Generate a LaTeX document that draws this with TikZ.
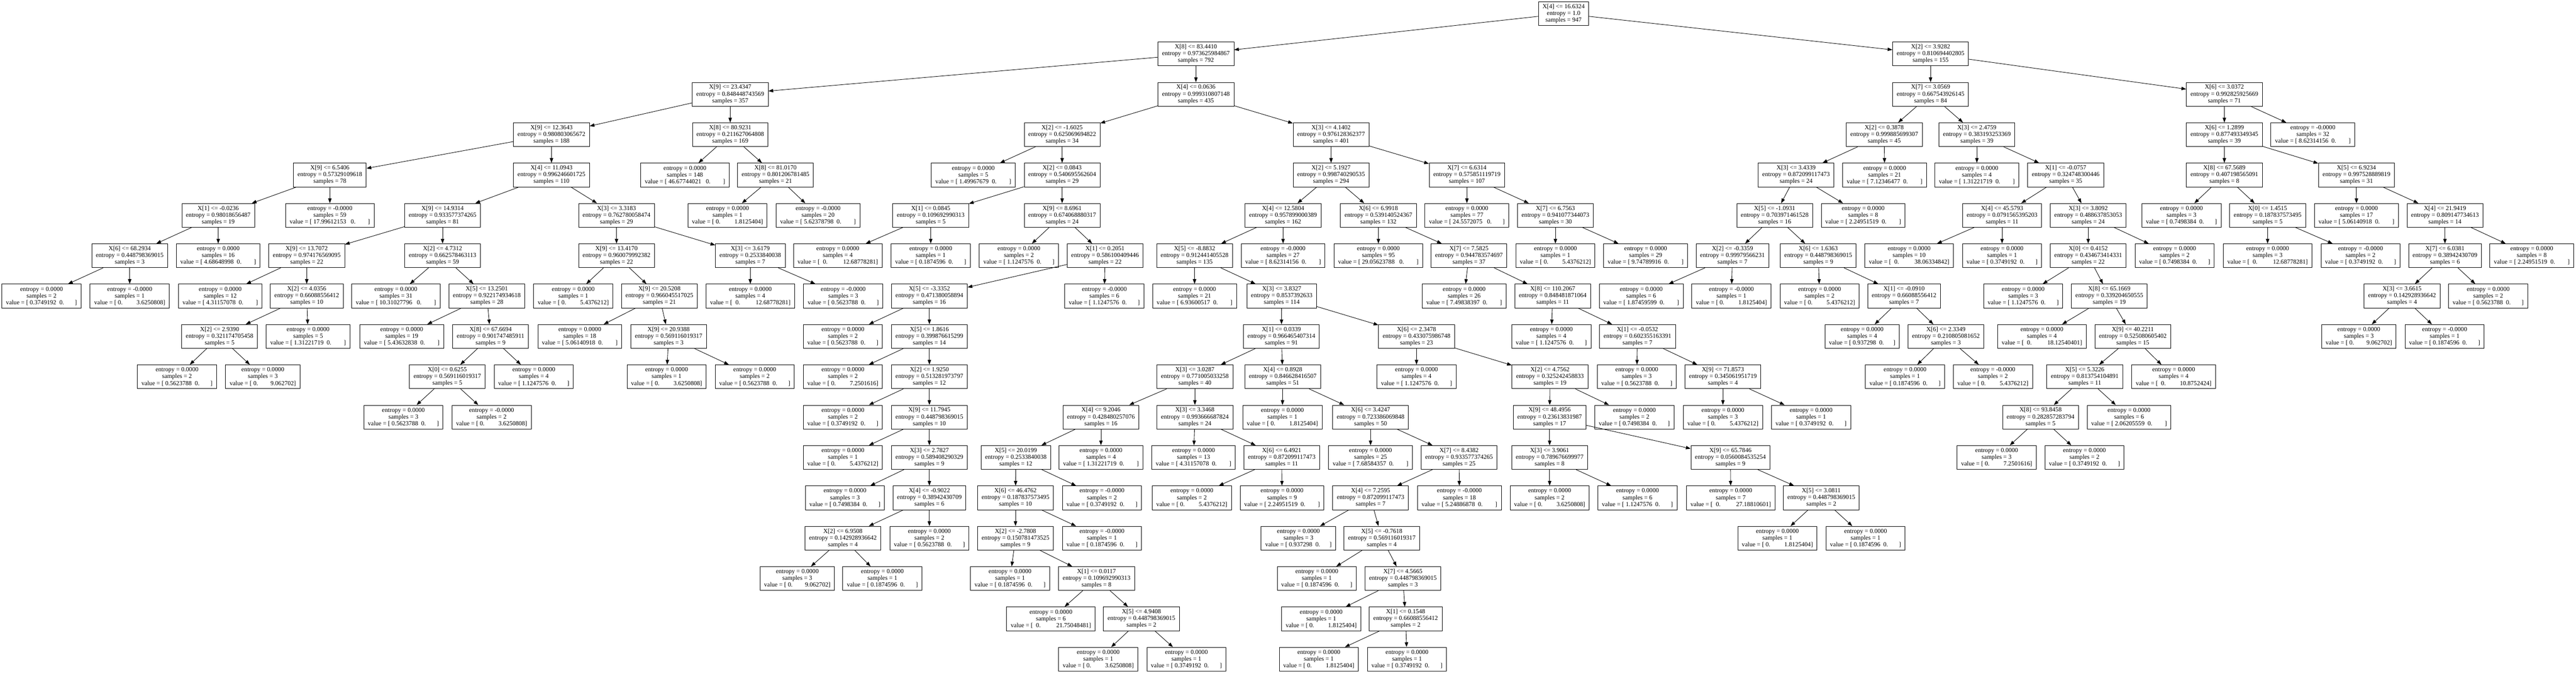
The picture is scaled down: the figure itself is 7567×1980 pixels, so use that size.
\documentclass[tikz,border=0pt]{standalone}
\usepackage{fontspec}
\setmainfont{Liberation Serif}
\usetikzlibrary{arrows.meta,positioning}

\newcommand{\gap}[1]{\hspace*{\dimexpr#1\fontdimen2\font\relax}}
\newcommand{\splt}[4]{X[#1] <= #2\\entropy = #3\\samples = #4}
\newcommand{\lf}[3]{entropy = #1\\samples = #2\\value = #3}
\newcommand{\vx}[2]{[\gap{1}#1\gap{2}0.\gap{#2}]}
\newcommand{\vxx}[2]{[\gap{1}#1\gap{3}0.\gap{#2}]}
\newcommand{\vy}[2]{[\gap{1}0.\gap{\numexpr#2+2\relax}#1]}
\newcommand{\vyy}[2]{[\gap{2}0.\gap{\numexpr#2+2\relax}#1]}

\tikzset{
    treenode/.style={draw, rectangle, align=center, line width=1.3pt, inner xsep=12pt, inner ysep=3pt, minimum height=70pt, font=\fontsize{18.3}{19.8}\selectfont},
    branch/.style={-{Triangle[length=14pt,width=10pt]}, line width=1.3pt}
}

\begin{document}
\begin{tikzpicture}[node distance=118.6pt]
    \path[fill=white, use as bounding box] (0,0) rectangle (7567pt,-1980pt);

    \node[treenode] (n0) at (4593pt,-40pt) {\splt{4}{16.6324}{1.0}{947}};
    \node[treenode, below of=n0, xshift=-1080pt] (n1) {\splt{8}{83.4410}{0.973625984867}{792}};
    \node[treenode, below of=n1, xshift=-1368pt] (n2) {\splt{9}{23.4347}{0.848448743569}{357}};
    \node[treenode, below of=n2, xshift=-525pt] (n3) {\splt{9}{12.3643}{0.980803065672}{188}};
    \node[treenode, below of=n3, xshift=-651pt] (n4) {\splt{9}{6.5406}{0.57329109618}{78}};
    \node[treenode, below of=n4, xshift=-328pt] (n5) {\splt{1}{-0.0236}{0.98018656487}{19}};
    \node[treenode, below of=n5, xshift=-260pt] (n6) {\splt{6}{68.2934}{0.448798369015}{3}};
    \node[treenode, below of=n6, xshift=-259pt] (n7) {\lf{0.0000}{2}{\vx{0.3749192}{7}}};
    \node[treenode, below of=n6] (n8) {\lf{-0.0000}{1}{\vy{3.6250808}{7}}};
    \node[treenode, below of=n5] (n9) {\lf{0.0000}{16}{\vx{4.68648998}{8}}};
    \node[treenode, below of=n4] (n10) {\lf{-0.0000}{59}{\vxx{17.99612153}{8}}};
    \node[treenode, below of=n3] (n11) {\splt{4}{11.0943}{0.996246601725}{110}};
    \node[treenode, below of=n11, xshift=-320pt] (n12) {\splt{9}{14.9314}{0.933577374265}{81}};
    \node[treenode, below of=n12, xshift=-399pt] (n13) {\splt{9}{13.7072}{0.974176569095}{22}};
    \node[treenode, below of=n13, xshift=-254pt] (n14) {\lf{0.0000}{12}{\vx{4.31157078}{8}}};
    \node[treenode, below of=n13] (n15) {\splt{2}{4.0356}{0.66088556412}{10}};
    \node[treenode, below of=n15, xshift=-256pt] (n16) {\splt{2}{2.9390}{0.321174705458}{5}};
    \node[treenode, below of=n16, xshift=-125pt] (n17) {\lf{0.0000}{2}{\vx{0.5623788}{7}}};
    \node[treenode, below of=n16, xshift=127pt] (n18) {\lf{0.0000}{3}{\vy{9.062702}{6}}};
    \node[treenode, below of=n15, xshift=4pt] (n19) {\lf{0.0000}{5}{\vx{1.31221719}{8}}};
    \node[treenode, below of=n12] (n20) {\splt{2}{4.7312}{0.662578463113}{59}};
    \node[treenode, below of=n20, xshift=-137pt] (n21) {\lf{0.0000}{31}{\vxx{10.31027796}{8}}};
    \node[treenode, below of=n20, xshift=130pt] (n22) {\splt{5}{13.2501}{0.922174934618}{28}};
    \node[treenode, below of=n22, xshift=-250pt] (n23) {\lf{0.0000}{19}{\vx{5.43632838}{8}}};
    \node[treenode, below of=n22, xshift=11pt] (n24) {\splt{8}{67.6694}{0.901747485911}{9}};
    \node[treenode, below of=n24, xshift=-127pt] (n25) {\splt{0}{0.6255}{0.569116019317}{5}};
    \node[treenode, below of=n25, xshift=-129pt] (n26) {\lf{0.0000}{3}{\vx{0.5623788}{7}}};
    \node[treenode, below of=n25, xshift=130pt] (n27) {\lf{-0.0000}{2}{\vy{3.6250808}{7}}};
    \node[treenode, below of=n24, xshift=127pt] (n28) {\lf{0.0000}{4}{\vx{1.1247576}{7}}};
    \node[treenode, below of=n11, xshift=191pt] (n29) {\splt{3}{3.3183}{0.762780058474}{29}};
    \node[treenode, below of=n29] (n30) {\splt{9}{13.4170}{0.960079992382}{22}};
    \node[treenode, below of=n30, xshift=-127pt] (n31) {\lf{0.0000}{1}{\vy{5.4376212}{7}}};
    \node[treenode, below of=n30, xshift=126pt] (n32) {\splt{9}{20.5208}{0.966045517025}{21}};
    \node[treenode, below of=n32, xshift=-234pt] (n33) {\lf{0.0000}{18}{\vx{5.06140918}{8}}};
    \node[treenode, below of=n32, xshift=27pt] (n34) {\splt{9}{20.9388}{0.569116019317}{3}};
    \node[treenode, below of=n34, xshift=-6pt] (n35) {\lf{0.0000}{1}{\vy{3.6250808}{7}}};
    \node[treenode, below of=n34, xshift=253pt] (n36) {\lf{0.0000}{2}{\vx{0.5623788}{7}}};
    \node[treenode, below of=n29, xshift=393pt] (n37) {\splt{3}{3.6179}{0.2533840038}{7}};
    \node[treenode, below of=n37] (n38) {\lf{0.0000}{4}{\vyy{12.68778281}{8}}};
    \node[treenode, below of=n37, xshift=273pt] (n39) {\lf{-0.0000}{3}{\vx{0.5623788}{7}}};
    \node[treenode, below of=n2] (n40) {\splt{8}{80.9231}{0.211627064808}{169}};
    \node[treenode, below of=n40, xshift=-133pt] (n41) {\lf{0.0000}{148}{\vxx{46.67744021}{8}}};
    \node[treenode, below of=n40, xshift=133pt] (n42) {\splt{8}{81.0170}{0.801206781485}{21}};
    \node[treenode, below of=n42, xshift=-141pt] (n43) {\lf{0.0000}{1}{\vy{1.8125404}{7}}};
    \node[treenode, below of=n42, xshift=125pt] (n44) {\lf{-0.0000}{20}{\vx{5.62378798}{8}}};

    \node[treenode, below of=n1] (n45) {\splt{4}{0.0636}{0.999310807148}{435}};
    \node[treenode, below of=n45, xshift=-393pt] (n46) {\splt{2}{-1.6025}{0.625069694822}{34}};
    \node[treenode, below of=n46, xshift=-261pt] (n47) {\lf{0.0000}{5}{\vx{1.49967679}{8}}};
    \node[treenode, below of=n46] (n48) {\splt{2}{0.0843}{0.540695562604}{29}};
    \node[treenode, below of=n48, xshift=-386pt] (n49) {\splt{1}{0.0845}{0.109692990313}{5}};
    \node[treenode, below of=n49, xshift=-273pt] (n50) {\lf{0.0000}{4}{\vyy{12.68778281}{8}}};
    \node[treenode, below of=n49] (n51) {\lf{0.0000}{1}{\vx{0.1874596}{7}}};
    \node[treenode, below of=n48] (n52) {\splt{9}{8.6961}{0.674068880317}{24}};
    \node[treenode, below of=n52, xshift=-127pt] (n53) {\lf{0.0000}{2}{\vx{1.1247576}{7}}};
    \node[treenode, below of=n52, xshift=126pt] (n54) {\splt{1}{0.2051}{0.586100409446}{22}};
    \node[treenode, below of=n54, xshift=-516pt] (n55) {\splt{5}{-3.3352}{0.471380058894}{16}};
    \node[treenode, below of=n55, xshift=-254pt] (n56) {\lf{0.0000}{2}{\vx{0.5623788}{7}}};
    \node[treenode, below of=n55] (n57) {\splt{5}{1.8616}{0.399876615299}{14}};
    \node[treenode, below of=n57, xshift=-254pt] (n58) {\lf{0.0000}{2}{\vy{7.2501616}{7}}};
    \node[treenode, below of=n57] (n59) {\splt{2}{1.9250}{0.513281973797}{12}};
    \node[treenode, below of=n59, xshift=-254pt] (n60) {\lf{0.0000}{2}{\vx{0.3749192}{7}}};
    \node[treenode, below of=n59] (n61) {\splt{9}{11.7945}{0.448798369015}{10}};
    \node[treenode, below of=n61, xshift=-254pt] (n62) {\lf{0.0000}{1}{\vy{5.4376212}{7}}};
    \node[treenode, below of=n61] (n63) {\splt{3}{2.7827}{0.589408290329}{9}};
    \node[treenode, below of=n63, xshift=-248pt] (n64) {\lf{0.0000}{3}{\vx{0.7498384}{7}}};
    \node[treenode, below of=n63] (n65) {\splt{4}{-0.9022}{0.38942430709}{6}};
    \node[treenode, below of=n65, xshift=-254pt] (n66) {\splt{2}{6.9508}{0.142928936642}{4}};
    \node[treenode, below of=n66, xshift=-134pt] (n67) {\lf{0.0000}{3}{\vy{9.062702}{6}}};
    \node[treenode, below of=n66, xshift=116pt] (n68) {\lf{0.0000}{1}{\vx{0.1874596}{7}}};
    \node[treenode, below of=n65] (n69) {\lf{0.0000}{2}{\vx{0.5623788}{7}}};
    \node[treenode, below of=n54, xshift=-2pt] (n70) {\lf{-0.0000}{6}{\vx{1.1247576}{7}}};

    \node[treenode, below of=n45, xshift=397pt] (n71) {\splt{3}{4.1402}{0.976128362377}{401}};
    \node[treenode, below of=n71] (n72) {\splt{2}{5.1927}{0.998740290535}{294}};
    \node[treenode, below of=n72, xshift=-141pt] (n73) {\splt{4}{12.5804}{0.957899000389}{162}};
    \node[treenode, below of=n73, xshift=-260pt] (n74) {\splt{5}{-8.8832}{0.912441405528}{135}};
    \node[treenode, below of=n74] (n75) {\lf{0.0000}{21}{\vx{6.93600517}{8}}};
    \node[treenode, below of=n74, xshift=256pt] (n76) {\splt{3}{3.8327}{0.8537392633}{114}};
    \node[treenode, below of=n76, xshift=-1pt] (n77) {\splt{1}{0.0339}{0.966465407314}{91}};
    \node[treenode, below of=n77, xshift=-254pt] (n78) {\splt{3}{3.0287}{0.771005033258}{40}};
    \node[treenode, below of=n78, xshift=-276pt] (n79) {\splt{4}{9.2046}{0.428480257076}{16}};
    \node[treenode, below of=n79, xshift=-250pt] (n80) {\splt{5}{20.0199}{0.2533840038}{12}};
    \node[treenode, below of=n80, xshift=-1pt] (n81) {\splt{6}{46.4762}{0.187837573495}{10}};
    \node[treenode, below of=n81] (n82) {\splt{2}{-2.7808}{0.150781473525}{9}};
    \node[treenode, below of=n82, xshift=-16pt] (n83) {\lf{0.0000}{1}{\vx{0.1874596}{7}}};
    \node[treenode, below of=n82, xshift=238pt] (n84) {\splt{1}{0.0117}{0.109692990313}{8}};
    \node[treenode, below of=n84, xshift=-134pt] (n85) {\lf{0.0000}{6}{\vyy{21.75048481}{8}}};
    \node[treenode, below of=n84, xshift=132pt] (n86) {\splt{5}{4.9408}{0.448798369015}{2}};
    \node[treenode, below of=n86, xshift=-127pt] (n87) {\lf{0.0000}{1}{\vy{3.6250808}{7}}};
    \node[treenode, below of=n86, xshift=132pt] (n88) {\lf{0.0000}{1}{\vx{0.3749192}{7}}};
    \node[treenode, below of=n81, xshift=254pt] (n89) {\lf{-0.0000}{1}{\vx{0.1874596}{7}}};
    \node[treenode, below of=n80, xshift=253pt] (n90) {\lf{-0.0000}{2}{\vx{0.3749192}{7}}};
    \node[treenode, below of=n79] (n91) {\lf{0.0000}{4}{\vx{1.31221719}{8}}};
    \node[treenode, below of=n78] (n92) {\splt{3}{3.3468}{0.993666687824}{24}};
    \node[treenode, below of=n92, xshift=-4pt] (n93) {\lf{0.0000}{13}{\vx{4.31157078}{8}}};
    \node[treenode, below of=n92, xshift=255pt] (n94) {\splt{6}{6.4921}{0.872099117473}{11}};
    \node[treenode, below of=n94, xshift=-264pt] (n95) {\lf{0.0000}{2}{\vy{5.4376212}{7}}};
    \node[treenode, below of=n94, xshift=1pt] (n96) {\lf{0.0000}{9}{\vx{2.24951519}{8}}};
    \node[treenode, below of=n77, xshift=4pt] (n97) {\splt{4}{0.8928}{0.846628416507}{51}};
    \node[treenode, below of=n97, xshift=-1pt] (n98) {\lf{0.0000}{1}{\vy{1.8125404}{7}}};
    \node[treenode, below of=n97, xshift=258pt] (n99) {\splt{6}{3.4247}{0.723386069848}{50}};
    \node[treenode, below of=n99] (n100) {\lf{0.0000}{25}{\vx{7.68584357}{8}}};
    \node[treenode, below of=n99, xshift=260pt] (n101) {\splt{7}{8.4382}{0.933577374265}{25}};
    \node[treenode, below of=n101, xshift=-260pt] (n102) {\splt{4}{7.2595}{0.872099117473}{7}};
    \node[treenode, below of=n102, xshift=-212pt] (n103) {\lf{0.0000}{3}{\vx{0.937298}{6}}};
    \node[treenode, below of=n102, xshift=33pt] (n104) {\splt{5}{-0.7618}{0.569116019317}{4}};
    \node[treenode, below of=n104, xshift=-191pt] (n105) {\lf{0.0000}{1}{\vx{0.1874596}{7}}};
    \node[treenode, below of=n104, xshift=62pt] (n106) {\splt{7}{4.5665}{0.448798369015}{3}};
    \node[treenode, below of=n106, xshift=-240pt] (n107) {\lf{0.0000}{1}{\vy{1.8125404}{7}}};
    \node[treenode, below of=n106, xshift=8pt] (n108) {\splt{1}{0.1548}{0.66088556412}{2}};
    \node[treenode, below of=n108, xshift=-255pt] (n109) {\lf{0.0000}{1}{\vy{1.8125404}{7}}};
    \node[treenode, below of=n108, xshift=4pt] (n110) {\lf{0.0000}{1}{\vx{0.3749192}{7}}};
    \node[treenode, below of=n101, xshift=1pt] (n111) {\lf{-0.0000}{18}{\vx{5.24886878}{8}}};
    \node[treenode, below of=n76, xshift=396pt] (n112) {\splt{6}{2.3478}{0.433075986748}{23}};
    \node[treenode, below of=n112] (n113) {\lf{0.0000}{4}{\vx{1.1247576}{7}}};
    \node[treenode, below of=n112, xshift=392pt] (n114) {\splt{2}{4.7562}{0.325242458833}{19}};
    \node[treenode, below of=n114, xshift=-1pt] (n115) {\splt{9}{48.4956}{0.23613831987}{17}};
    \node[treenode, below of=n115] (n116) {\splt{3}{3.9061}{0.789676699977}{8}};
    \node[treenode, below of=n116] (n117) {\lf{0.0000}{2}{\vy{3.6250808}{7}}};
    \node[treenode, below of=n116, xshift=258pt] (n118) {\lf{0.0000}{6}{\vx{1.1247576}{7}}};
    \node[treenode, below of=n115, xshift=531pt] (n119) {\splt{9}{65.7846}{0.0560084535254}{9}};
    \node[treenode, below of=n119, xshift=1pt] (n120) {\lf{0.0000}{7}{\vyy{27.18810601}{8}}};
    \node[treenode, below of=n119, xshift=267pt] (n121) {\splt{5}{3.0811}{0.448798369015}{2}};
    \node[treenode, below of=n121, xshift=-129pt] (n122) {\lf{0.0000}{1}{\vy{1.8125404}{7}}};
    \node[treenode, below of=n121, xshift=130pt] (n123) {\lf{0.0000}{1}{\vx{0.1874596}{7}}};
    \node[treenode, below of=n114, xshift=248pt] (n124) {\lf{0.0000}{2}{\vx{0.7498384}{7}}};
    \node[treenode, below of=n73] (n125) {\lf{-0.0000}{27}{\vx{8.62314156}{8}}};
    \node[treenode, below of=n72, xshift=139pt] (n126) {\splt{6}{6.9918}{0.539140524367}{132}};
    \node[treenode, below of=n126] (n127) {\lf{0.0000}{95}{\vxx{29.05623788}{8}}};
    \node[treenode, below of=n126, xshift=266pt] (n128) {\splt{7}{7.5825}{0.944783574697}{37}};
    \node[treenode, below of=n128, xshift=-14pt] (n129) {\lf{0.0000}{26}{\vx{7.49838397}{8}}};
    \node[treenode, below of=n128, xshift=246pt] (n130) {\splt{8}{110.2067}{0.848481871064}{11}};
    \node[treenode, below of=n130, xshift=-4pt] (n131) {\lf{0.0000}{4}{\vx{1.1247576}{7}}};
    \node[treenode, below of=n130, xshift=249pt] (n132) {\splt{1}{-0.0532}{0.602355163391}{7}};
    \node[treenode, below of=n132, xshift=-2pt] (n133) {\lf{0.0000}{3}{\vx{0.5623788}{7}}};
    \node[treenode, below of=n132, xshift=251pt] (n134) {\splt{9}{71.8573}{0.345061951719}{4}};
    \node[treenode, below of=n134] (n135) {\lf{0.0000}{3}{\vy{5.4376212}{7}}};
    \node[treenode, below of=n134, xshift=259pt] (n136) {\lf{0.0000}{1}{\vx{0.3749192}{7}}};
    \node[treenode, below of=n71, xshift=399pt] (n137) {\splt{7}{6.6314}{0.575851119719}{107}};
    \node[treenode, below of=n137] (n138) {\lf{0.0000}{77}{\vxx{24.5572075}{7}}};
    \node[treenode, below of=n137, xshift=260pt] (n139) {\splt{7}{6.7563}{0.941077344073}{30}};
    \node[treenode, below of=n139] (n140) {\lf{0.0000}{1}{\vy{5.4376212}{7}}};
    \node[treenode, below of=n139, xshift=265pt] (n141) {\lf{0.0000}{29}{\vx{9.74789916}{8}}};

    \node[treenode, below of=n0, xshift=1078pt] (n142) {\splt{2}{3.9282}{0.810694402805}{155}};
    \node[treenode, below of=n142] (n143) {\splt{7}{3.0569}{0.667543926145}{84}};
    \node[treenode, below of=n143, xshift=-136pt] (n144) {\splt{2}{0.3878}{0.999885699307}{45}};
    \node[treenode, below of=n144, xshift=-259pt] (n145) {\splt{3}{3.4339}{0.872099117473}{24}};
    \node[treenode, below of=n145, xshift=-63pt] (n146) {\splt{5}{-1.0931}{0.703971461528}{16}};
    \node[treenode, below of=n146, xshift=-124pt] (n147) {\splt{2}{-0.3359}{0.99979566231}{7}};
    \node[treenode, below of=n147, xshift=-268pt] (n148) {\lf{0.0000}{6}{\vx{1.87459599}{8}}};
    \node[treenode, below of=n147, xshift=-3pt] (n149) {\lf{-0.0000}{1}{\vy{1.8125404}{7}}};
    \node[treenode, below of=n146, xshift=128pt] (n150) {\splt{6}{1.6363}{0.448798369015}{9}};
    \node[treenode, below of=n150, xshift=4pt] (n151) {\lf{0.0000}{2}{\vy{5.4376212}{7}}};
    \node[treenode, below of=n150, xshift=252pt] (n152) {\splt{1}{-0.0910}{0.66088556412}{7}};
    \node[treenode, below of=n152, xshift=-123pt] (n153) {\lf{0.0000}{4}{\vx{0.937298}{6}}};
    \node[treenode, below of=n152, xshift=123pt] (n154) {\splt{6}{2.3349}{0.210805081652}{3}};
    \node[treenode, below of=n154, xshift=-120pt] (n155) {\lf{0.0000}{1}{\vx{0.1874596}{7}}};
    \node[treenode, below of=n154, xshift=138pt] (n156) {\lf{-0.0000}{2}{\vy{5.4376212}{7}}};
    \node[treenode, below of=n145, xshift=197pt] (n157) {\lf{0.0000}{8}{\vx{2.24951519}{8}}};
    \node[treenode, below of=n144, xshift=1pt] (n158) {\lf{0.0000}{21}{\vx{7.12346477}{8}}};
    \node[treenode, below of=n143, xshift=136pt] (n159) {\splt{3}{2.4759}{0.383193253369}{39}};
    \node[treenode, below of=n159] (n160) {\lf{0.0000}{4}{\vx{1.31221719}{8}}};
    \node[treenode, below of=n159, xshift=261pt] (n161) {\splt{1}{-0.0757}{0.324748300446}{35}};
    \node[treenode, below of=n161, xshift=-187pt] (n162) {\splt{4}{45.5793}{0.0791565395203}{11}};
    \node[treenode, below of=n162, xshift=-273pt] (n163) {\lf{0.0000}{10}{\vyy{38.06334842}{8}}};
    \node[treenode, below of=n162] (n164) {\lf{0.0000}{1}{\vx{0.3749192}{7}}};
    \node[treenode, below of=n161, xshift=66pt] (n165) {\splt{3}{3.8092}{0.488637853053}{24}};
    \node[treenode, below of=n165] (n166) {\splt{0}{0.4152}{0.434673414331}{22}};
    \node[treenode, below of=n166, xshift=-191pt] (n167) {\lf{0.0000}{3}{\vx{1.1247576}{7}}};
    \node[treenode, below of=n166, xshift=62pt] (n168) {\splt{8}{65.1669}{0.339204650555}{19}};
    \node[treenode, below of=n168, xshift=-198pt] (n169) {\lf{0.0000}{4}{\vyy{18.12540401}{8}}};
    \node[treenode, below of=n168, xshift=69pt] (n170) {\splt{9}{40.2211}{0.525080605402}{15}};
    \node[treenode, below of=n170, xshift=-141pt] (n171) {\splt{5}{5.3226}{0.813754104891}{11}};
    \node[treenode, below of=n171, xshift=-130pt] (n172) {\splt{8}{93.8458}{0.282857283794}{5}};
    \node[treenode, below of=n172, xshift=-129pt] (n173) {\lf{0.0000}{3}{\vy{7.2501616}{7}}};
    \node[treenode, below of=n172, xshift=129pt] (n174) {\lf{0.0000}{2}{\vx{0.3749192}{7}}};
    \node[treenode, below of=n171, xshift=130pt] (n175) {\lf{0.0000}{6}{\vx{2.06205559}{8}}};
    \node[treenode, below of=n170, xshift=120pt] (n176) {\lf{0.0000}{4}{\vyy{10.8752424}{7}}};
    \node[treenode, below of=n165, xshift=254pt] (n177) {\lf{0.0000}{2}{\vx{0.7498384}{7}}};
    \node[treenode, below of=n142, xshift=863pt] (n178) {\splt{6}{3.0372}{0.992825925669}{71}};
    \node[treenode, below of=n178] (n179) {\splt{6}{1.2899}{0.877493349345}{39}};
    \node[treenode, below of=n179] (n180) {\splt{8}{67.5689}{0.407198565091}{8}};
    \node[treenode, below of=n180, xshift=-126pt] (n181) {\lf{0.0000}{3}{\vx{0.7498384}{7}}};
    \node[treenode, below of=n180, xshift=127pt] (n182) {\splt{0}{1.4515}{0.187837573495}{5}};
    \node[treenode, below of=n182] (n183) {\lf{0.0000}{3}{\vyy{12.68778281}{8}}};
    \node[treenode, below of=n182, xshift=273pt] (n184) {\lf{-0.0000}{2}{\vx{0.3749192}{7}}};
    \node[treenode, below of=n179, xshift=388pt] (n185) {\splt{5}{6.9234}{0.997528889819}{31}};
    \node[treenode, below of=n185] (n186) {\lf{0.0000}{17}{\vx{5.06140918}{8}}};
    \node[treenode, below of=n185, xshift=260pt] (n187) {\splt{4}{21.9419}{0.809147734613}{14}};
    \node[treenode, below of=n187] (n188) {\splt{7}{6.0381}{0.38942430709}{6}};
    \node[treenode, below of=n188, xshift=-126pt] (n189) {\splt{3}{3.6615}{0.142928936642}{4}};
    \node[treenode, below of=n189, xshift=-127pt] (n190) {\lf{0.0000}{3}{\vy{9.062702}{6}}};
    \node[treenode, below of=n189, xshift=125pt] (n191) {\lf{-0.0000}{1}{\vx{0.1874596}{7}}};
    \node[treenode, below of=n188, xshift=127pt] (n192) {\lf{0.0000}{2}{\vx{0.5623788}{7}}};
    \node[treenode, below of=n187, xshift=255pt] (n193) {\lf{0.0000}{8}{\vx{2.24951519}{8}}};
    \node[treenode, below of=n178, xshift=260pt] (n194) {\lf{-0.0000}{32}{\vx{8.62314156}{8}}};

    \draw[branch] (n0) edge (n1) edge (n142);
    \draw[branch] (n1) edge (n2) edge (n45);
    \draw[branch] (n2) edge (n3) edge (n40);
    \draw[branch] (n3) edge (n4) edge (n11);
    \draw[branch] (n4) edge (n5) edge (n10);
    \draw[branch] (n5) edge (n6) edge (n9);
    \draw[branch] (n6) edge (n7) edge (n8);
    \draw[branch] (n11) edge (n12) edge (n29);
    \draw[branch] (n12) edge (n13) edge (n20);
    \draw[branch] (n13) edge (n14) edge (n15);
    \draw[branch] (n15) edge (n16) edge (n19);
    \draw[branch] (n16) edge (n17) edge (n18);
    \draw[branch] (n20) edge (n21) edge (n22);
    \draw[branch] (n22) edge (n23) edge (n24);
    \draw[branch] (n24) edge (n25) edge (n28);
    \draw[branch] (n25) edge (n26) edge (n27);
    \draw[branch] (n29) edge (n30) edge (n37);
    \draw[branch] (n30) edge (n31) edge (n32);
    \draw[branch] (n32) edge (n33) edge (n34);
    \draw[branch] (n34) edge (n35) edge (n36);
    \draw[branch] (n37) edge (n38) edge (n39);
    \draw[branch] (n40) edge (n41) edge (n42);
    \draw[branch] (n42) edge (n43) edge (n44);
    \draw[branch] (n45) edge (n46) edge (n71);
    \draw[branch] (n46) edge (n47) edge (n48);
    \draw[branch] (n48) edge (n49) edge (n52);
    \draw[branch] (n49) edge (n50) edge (n51);
    \draw[branch] (n52) edge (n53) edge (n54);
    \draw[branch] (n54) edge (n55) edge (n70);
    \draw[branch] (n55) edge (n56) edge (n57);
    \draw[branch] (n57) edge (n58) edge (n59);
    \draw[branch] (n59) edge (n60) edge (n61);
    \draw[branch] (n61) edge (n62) edge (n63);
    \draw[branch] (n63) edge (n64) edge (n65);
    \draw[branch] (n65) edge (n66) edge (n69);
    \draw[branch] (n66) edge (n67) edge (n68);
    \draw[branch] (n71) edge (n72) edge (n137);
    \draw[branch] (n72) edge (n73) edge (n126);
    \draw[branch] (n73) edge (n74) edge (n125);
    \draw[branch] (n74) edge (n75) edge (n76);
    \draw[branch] (n76) edge (n77) edge (n112);
    \draw[branch] (n77) edge (n78) edge (n97);
    \draw[branch] (n78) edge (n79) edge (n92);
    \draw[branch] (n79) edge (n80) edge (n91);
    \draw[branch] (n80) edge (n81) edge (n90);
    \draw[branch] (n81) edge (n82) edge (n89);
    \draw[branch] (n82) edge (n83) edge (n84);
    \draw[branch] (n84) edge (n85) edge (n86);
    \draw[branch] (n86) edge (n87) edge (n88);
    \draw[branch] (n92) edge (n93) edge (n94);
    \draw[branch] (n94) edge (n95) edge (n96);
    \draw[branch] (n97) edge (n98) edge (n99);
    \draw[branch] (n99) edge (n100) edge (n101);
    \draw[branch] (n101) edge (n102) edge (n111);
    \draw[branch] (n102) edge (n103) edge (n104);
    \draw[branch] (n104) edge (n105) edge (n106);
    \draw[branch] (n106) edge (n107) edge (n108);
    \draw[branch] (n108) edge (n109) edge (n110);
    \draw[branch] (n112) edge (n113) edge (n114);
    \draw[branch] (n114) edge (n115) edge (n124);
    \draw[branch] (n115) edge (n116) edge (n119);
    \draw[branch] (n116) edge (n117) edge (n118);
    \draw[branch] (n119) edge (n120) edge (n121);
    \draw[branch] (n121) edge (n122) edge (n123);
    \draw[branch] (n126) edge (n127) edge (n128);
    \draw[branch] (n128) edge (n129) edge (n130);
    \draw[branch] (n130) edge (n131) edge (n132);
    \draw[branch] (n132) edge (n133) edge (n134);
    \draw[branch] (n134) edge (n135) edge (n136);
    \draw[branch] (n137) edge (n138) edge (n139);
    \draw[branch] (n139) edge (n140) edge (n141);
    \draw[branch] (n142) edge (n143) edge (n178);
    \draw[branch] (n143) edge (n144) edge (n159);
    \draw[branch] (n144) edge (n145) edge (n158);
    \draw[branch] (n145) edge (n146) edge (n157);
    \draw[branch] (n146) edge (n147) edge (n150);
    \draw[branch] (n147) edge (n148) edge (n149);
    \draw[branch] (n150) edge (n151) edge (n152);
    \draw[branch] (n152) edge (n153) edge (n154);
    \draw[branch] (n154) edge (n155) edge (n156);
    \draw[branch] (n159) edge (n160) edge (n161);
    \draw[branch] (n161) edge (n162) edge (n165);
    \draw[branch] (n162) edge (n163) edge (n164);
    \draw[branch] (n165) edge (n166) edge (n177);
    \draw[branch] (n166) edge (n167) edge (n168);
    \draw[branch] (n168) edge (n169) edge (n170);
    \draw[branch] (n170) edge (n171) edge (n176);
    \draw[branch] (n171) edge (n172) edge (n175);
    \draw[branch] (n172) edge (n173) edge (n174);
    \draw[branch] (n178) edge (n179) edge (n194);
    \draw[branch] (n179) edge (n180) edge (n185);
    \draw[branch] (n180) edge (n181) edge (n182);
    \draw[branch] (n182) edge (n183) edge (n184);
    \draw[branch] (n185) edge (n186) edge (n187);
    \draw[branch] (n187) edge (n188) edge (n193);
    \draw[branch] (n188) edge (n189) edge (n192);
    \draw[branch] (n189) edge (n190) edge (n191);
\end{tikzpicture}
\end{document}
